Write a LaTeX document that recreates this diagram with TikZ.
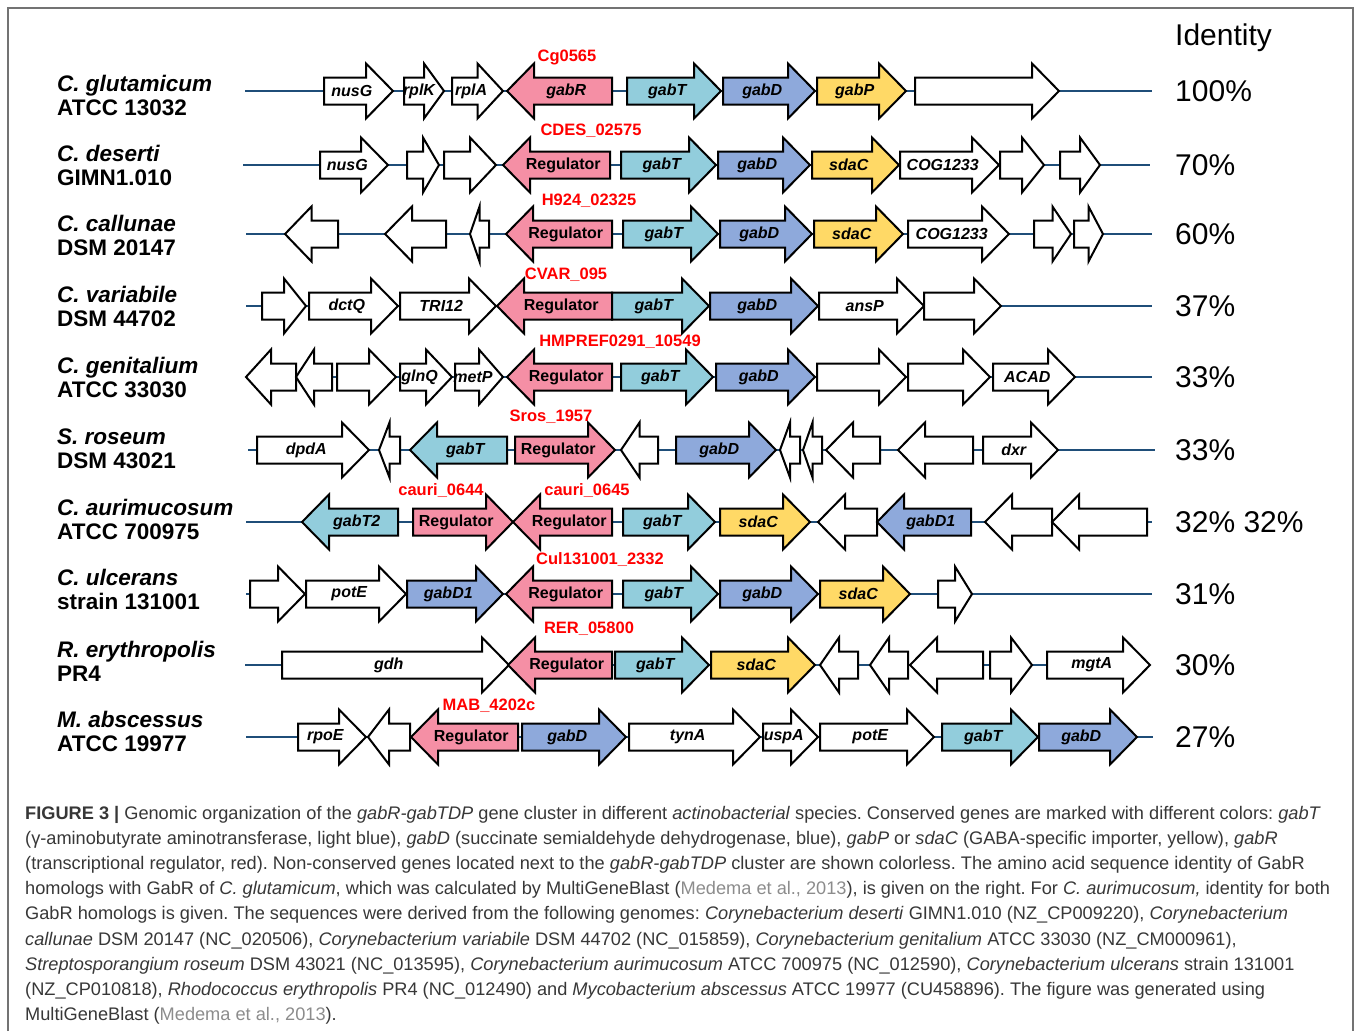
\documentclass[tikz,border=0pt]{standalone}
\usepackage{fontspec}
\setmainfont{Liberation Sans}
\newfontfamily\capfont{Liberation Sans}
\usepackage{xcolor}
\definecolor{regpink}{RGB}{245,143,165}
\definecolor{tblue}{RGB}{146,205,220}
\definecolor{dblue}{RGB}{142,169,219}
\definecolor{pyellow}{RGB}{255,217,102}
\definecolor{spine}{RGB}{31,78,121}
\definecolor{captext}{RGB}{55,55,55}
\definecolor{citegray}{RGB}{140,140,140}
\usepackage{tikz}

% gene arrow: name, tail x, tip x, y, style, label
\newcommand{\gene}[6]{%
    \pgfmathsetmacro{\gh}{sign(#3-#2)*min(27,0.5*abs(#3-#2))}
    \draw[#5] (#2,#4-13.5) -- (#3-\gh,#4-13.5) -- (#3-\gh,#4-27.5) -- (#3,#4)
        -- (#3-\gh,#4+27.5) -- (#3-\gh,#4+13.5) -- (#2,#4+13.5) -- cycle;
    \node[genelabel] (#1) at ({(#2+#3)/2-\gh/4},#4) {#6};
}

\begin{document}
\frenchspacing
\begin{tikzpicture}[
    x=1pt, y=-1pt,
    frame/.style={draw=black!55, line width=1.5pt},
    backbone/.style={draw=spine, line width=2pt},
    gene/.style={draw=black, line width=2pt, fill=white, line join=miter},
    regulator/.style={gene, fill=regpink},
    transaminase/.style={gene, fill=tblue},
    dehydrogenase/.style={gene, fill=dblue},
    importer/.style={gene, fill=pyellow},
    genelabel/.style={inner sep=0pt, font=\fontsize{16}{16}\selectfont\bfseries\itshape},
    locus/.style={inner sep=0pt, text=red, font=\fontsize{16.5}{16.5}\selectfont\bfseries},
    species/.style={anchor=west, align=left, inner sep=0pt, font=\fontsize{22.5}{24}\selectfont\bfseries},
    identity/.style={anchor=west, inner sep=0pt, font=\fontsize{30}{30}\selectfont},
    caption/.style={anchor=base west, inner sep=0pt, text=captext, font=\capfont\fontsize{18.2}{25}\selectfont}
]
\useasboundingbox (0,0) rectangle (1357,1031);

% ==================== FRAME ====================
\draw[frame] (8,1031) -- (8,8) -- (1353,8) -- (1353,1031);

% ==================== BACKBONES ====================
\foreach \r/\y/\a/\b in {1/91/245/1152, 2/165/243/1150, 3/234/246/1152, 4/306/246/1152,
    5/377/246/1152, 6/450/248/1155, 7/522/246/1152, 8/594/246/1152, 9/665/245/1150, 10/737/246/1153}{
    \coordinate (s\r) at (\a,\y);
    \coordinate (e\r) at (\b,\y);
    \draw[backbone] (s\r) -- (e\r);
}

% ==================== SPECIES & IDENTITY ====================
\node[identity] (ident) at (1175,38) {Identity};
\foreach \sp/\strain/\ny/\pct/\iy [count=\i] in {
    C. glutamicum/ATCC 13032/95/100\%/91,
    C. deserti/GIMN1.010/165.5/70\%/165,
    C. callunae/DSM 20147/235.5/60\%/234,
    C. variabile/DSM 44702/306.5/37\%/306,
    C. genitalium/ATCC 33030/377.5/33\%/377,
    S. roseum/DSM 43021/448.5/33\%/450,
    C. aurimucosum/ATCC 700975/519.5/32\% 32\%/522,
    C. ulcerans/strain 131001/589.5/31\%/594,
    R. erythropolis/PR4/661/30\%/665,
    M. abscessus/ATCC 19977/731.5/27\%/737}{
    \node[species] (sp\i) at (57,\ny) {\textit{\sp}\\\strain};
    \node[identity] (id\i) at (1175,\iy) {\pct};
}

% ==================== ROW 1 ====================
\gene{nusGa}{324}{393}{91}{gene}{nusG}
\gene{rplKa}{404}{444}{91}{gene}{rplK}
\gene{rplAa}{452}{503}{91}{gene}{rplA}
\gene{gabRa}{612}{507}{91}{regulator}{gabR}
\gene{gabTa}{627}{721}{91}{transaminase}{gabT}
\gene{gabDa}{723}{815}{91}{dehydrogenase}{gabD}
\gene{gabPa}{817}{906}{91}{importer}{gabP}
\gene{orfa}{915}{1059}{91}{gene}{}
\node[locus] (loc1) at (567,57) {Cg0565};

% ==================== ROW 2 ====================
\gene{nusGb}{320}{388}{165}{gene}{nusG}
\gene{orfb1}{407}{439}{165}{gene}{}
\gene{orfb2}{444}{496}{165}{gene}{}
\gene{regb}{610}{503}{165}{regulator}{\upshape Regulator}
\gene{gabTb}{621}{716}{165}{transaminase}{gabT}
\gene{gabDb}{718}{810}{165}{dehydrogenase}{gabD}
\gene{sdaCb}{812}{899}{165}{importer}{sdaC}
\gene{cogb}{900}{999}{165}{gene}{COG1233}
\gene{orfb3}{1000}{1044}{165}{gene}{}
\gene{orfb4}{1060}{1100}{165}{gene}{}
\node[locus] (loc2) at (591,131) {CDES\_02575};

% ==================== ROW 3 ====================
\gene{orfc1}{338}{285}{234}{gene}{}
\gene{orfc2}{446}{385}{234}{gene}{}
\gene{orfc3}{489}{470}{234}{gene}{}
\gene{regc}{612}{506}{234}{regulator}{\upshape Regulator}
\gene{gabTc}{623}{718}{234}{transaminase}{gabT}
\gene{gabDc}{720}{812}{234}{dehydrogenase}{gabD}
\gene{sdaCc}{814}{903}{234}{importer}{sdaC}
\gene{cogc}{908}{1009}{234}{gene}{COG1233}
\gene{orfc4}{1034}{1071}{234}{gene}{}
\gene{orfc5}{1074}{1103}{234}{gene}{}
\node[locus] (loc3) at (589,201) {H924\_02325};

% ==================== ROW 4 ====================
\gene{orfd1}{262}{306}{306}{gene}{}
\gene{dctQd}{309}{398}{306}{gene}{dctQ}
\gene{trid}{400}{496}{306}{gene}{TRI12}
\gene{regd}{612}{497}{306}{regulator}{\upshape Regulator}
\gene{gabTd}{612}{709}{306}{transaminase}{gabT}
\gene{gabDd}{710}{818}{306}{dehydrogenase}{gabD}
\gene{ansPd}{819}{924}{306}{gene}{ansP}
\gene{orfd2}{924}{1001}{306}{gene}{}
\node[locus] (loc4) at (566,275) {CVAR\_095};

% ==================== ROW 5 ====================
\gene{orfe1}{296}{246}{377}{gene}{}
\gene{orfe2}{332}{296}{377}{gene}{}
\gene{orfe3}{337}{396}{377}{gene}{}
\gene{glnQe}{400}{452}{377}{gene}{glnQ}
\gene{metPe}{455}{503}{377}{gene}{metP}
\gene{rege}{612}{507}{377}{regulator}{\upshape Regulator}
\gene{gabTe}{621}{713}{377}{transaminase}{gabT}
\gene{gabDe}{716}{815}{377}{dehydrogenase}{gabD}
\gene{orfe4}{817}{906}{377}{gene}{}
\gene{orfe5}{908}{990}{377}{gene}{}
\gene{acade}{993}{1075}{377}{gene}{ACAD}
\node[locus] (loc5) at (620,342) {HMPREF0291\_10549};

% ==================== ROW 6 ====================
\gene{dpdAf}{257}{369}{450}{gene}{dpdA}
\gene{orff1}{400}{379}{450}{gene}{}
\gene{gabTf}{507}{410}{450}{transaminase}{gabT}
\gene{regf}{515}{615}{450}{regulator}{\upshape Regulator}
\gene{orff2}{658}{621}{450}{gene}{}
\gene{gabDf}{676}{776}{450}{dehydrogenase}{gabD}
\gene{orff3}{800}{780}{450}{gene}{}
\gene{orff4}{822}{803}{450}{gene}{}
\gene{orff5}{880}{826}{450}{gene}{}
\gene{orff6}{973}{898}{450}{gene}{}
\gene{dxrf}{983}{1058}{450}{gene}{dxr}
\node[locus] (loc6) at (551,417) {Sros\_1957};

% ==================== ROW 7 ====================
\gene{gabT2g}{398}{302}{522}{transaminase}{gabT2}
\gene{regg1}{413}{513}{522}{regulator}{\upshape Regulator}
\gene{regg2}{612}{513}{522}{regulator}{\upshape Regulator}
\gene{gabTg}{623}{715}{522}{transaminase}{gabT}
\gene{sdaCg}{720}{810}{522}{importer}{sdaC}
\gene{orfg1}{877}{818}{522}{gene}{}
\gene{gabD1g}{971}{877}{522}{dehydrogenase}{gabD1}
\gene{orfg2}{1052}{985}{522}{gene}{}
\gene{orfg3}{1147}{1052}{522}{gene}{}
\node[locus] (loc7a) at (441,491) {cauri\_0644};
\node[locus] (loc7b) at (587,491) {cauri\_0645};

% ==================== ROW 8 ====================
\gene{orfh1}{250}{305}{594}{gene}{}
\gene{potEh}{306}{406}{594}{gene}{potE}
\gene{gabD1h}{407}{503}{594}{dehydrogenase}{gabD1}
\gene{regh}{612}{506}{594}{regulator}{\upshape Regulator}
\gene{gabTh}{623}{718}{594}{transaminase}{gabT}
\gene{gabDh}{720}{818}{594}{dehydrogenase}{gabD}
\gene{sdaCh}{820}{910}{594}{importer}{sdaC}
\gene{orfh2}{938}{972}{594}{gene}{}
\node[locus] (loc8) at (600,560) {Cul131001\_2332};

% ==================== ROW 9 ====================
\gene{gdhi}{282}{509}{665}{gene}{gdh}
\gene{regi}{612}{508}{665}{regulator}{\upshape Regulator}
\gene{gabTi}{615}{709}{665}{transaminase}{gabT}
\gene{sdaCi}{711}{815}{665}{importer}{sdaC}
\gene{orfi1}{858}{820}{665}{gene}{}
\gene{orfi2}{908}{870}{665}{gene}{}
\gene{orfi3}{983}{910}{665}{gene}{}
\gene{orfi4}{990}{1032}{665}{gene}{}
\gene{mgtAi}{1047}{1150}{665}{gene}{mgtA}
\node[locus] (loc9) at (589,629) {RER\_05800};

% ==================== ROW 10 ====================
\gene{rpoEj}{298}{366}{737}{gene}{rpoE}
\gene{orfj1}{410}{368}{737}{gene}{}
\gene{regj}{518}{411}{737}{regulator}{\upshape Regulator}
\gene{gabDj1}{522}{626}{737}{dehydrogenase}{gabD}
\gene{tynAj}{629}{760}{737}{gene}{tynA}
\gene{uspAj}{763}{818}{737}{gene}{uspA}
\gene{potEj}{820}{934}{737}{gene}{potE}
\gene{gabTj}{942}{1038}{737}{transaminase}{gabT}
\gene{gabDj2}{1039}{1137}{737}{dehydrogenase}{gabD}
\node[locus] (loc10) at (489,706) {MAB\_4202c};

% ==================== CAPTION ====================
\node[caption] (cap1) at (25,819) {\textbf{FIGURE 3 |} Genomic organization of the \textit{gabR-gabTDP} gene cluster in different \textit{actinobacterial} species. Conserved genes are marked with different colors: \textit{gabT}};
\node[caption] (cap2) at (25,844.2) {(γ-aminobutyrate aminotransferase, light blue), \textit{gabD} (succinate semialdehyde dehydrogenase, blue), \textit{gabP} or \textit{sdaC} (GABA-specific importer, yellow), \textit{gabR}};
\node[caption] (cap3) at (25,869.4) {(transcriptional regulator, red). Non-conserved genes located next to the \textit{gabR-gabTDP} cluster are shown colorless. The amino acid sequence identity of GabR};
\node[caption] (cap4) at (25,894.6) {homologs with GabR of \textit{C. glutamicum}, which was calculated by MultiGeneBlast ({\color{citegray}Medema et al., 2013}), is given on the right. For \textit{C. aurimucosum,} identity for both};
\node[caption] (cap5) at (25,919.8) {GabR homologs is given. The sequences were derived from the following genomes: \textit{Corynebacterium deserti} GIMN1.010 (NZ\_CP009220), \textit{Corynebacterium}};
\node[caption] (cap6) at (25,945) {\textit{callunae} DSM 20147 (NC\_020506), \textit{Corynebacterium variabile} DSM 44702 (NC\_015859), \textit{Corynebacterium genitalium} ATCC 33030 (NZ\_CM000961),};
\node[caption] (cap7) at (25,970.2) {\textit{Streptosporangium roseum} DSM 43021 (NC\_013595), \textit{Corynebacterium aurimucosum} ATCC 700975 (NC\_012590), \textit{Corynebacterium ulcerans} strain 131001};
\node[caption] (cap8) at (25,995.4) {(NZ\_CP010818), \textit{Rhodococcus erythropolis} PR4 (NC\_012490) and \textit{Mycobacterium abscessus} ATCC 19977 (CU458896). The figure was generated using};
\node[caption] (cap9) at (25,1020.6) {MultiGeneBlast ({\color{citegray}Medema et al., 2013}).};

\end{tikzpicture}
\end{document}
